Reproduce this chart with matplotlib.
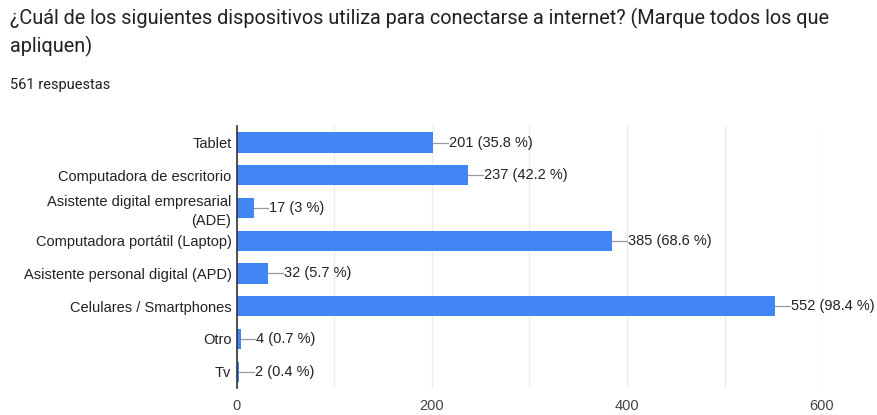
import matplotlib.pyplot as plt

# Survey answers (multiple choice, 561 responses)
CATEGORIES = [
    "Tablet",
    "Computadora de escritorio",
    "Asistente digital empresarial\n(ADE)",
    "Computadora portátil (Laptop)",
    "Asistente personal digital (APD)",
    "Celulares / Smartphones",
    "Otro",
    "Tv",
]
COUNTS = [201, 237, 17, 385, 32, 552, 4, 2]
PERCENTS = ["35.8", "42.2", "3", "68.6", "5.7", "98.4", "0.7", "0.4"]
X_TICKS = [0, 200, 400, 600]

BAR_COLOR = "#4285f4"
TEXT_COLOR = "#222222"


def main():
    fig = plt.figure(figsize=(8.77, 4.15), dpi=100)
    ax = fig.add_axes([0.2702, 0.065, 0.9373 - 0.2702, 0.631])

    y = list(range(len(CATEGORIES)))
    ax.barh(y, COUNTS, height=0.62, color=BAR_COLOR, zorder=2)

    ax.set_xlim(0, 600)
    ax.set_ylim(len(CATEGORIES) - 0.5, -0.5)
    ax.set_xticks(range(0, 601, 100))
    ax.set_xticklabels([str(v) if v in X_TICKS else "" for v in range(0, 601, 100)])
    ax.grid(axis="x", color="#ebebeb", linewidth=1, zorder=0)
    ax.tick_params(axis="both", length=0, labelsize=10.5, colors=TEXT_COLOR, pad=4)
    ax.tick_params(axis="x", pad=8)
    ax.set_yticks(y)
    ax.set_yticklabels(CATEGORIES, fontfamily="Liberation Sans", linespacing=1.4)
    for lab in ax.get_xticklabels():
        lab.set_fontfamily("Liberation Sans")
        lab.set_color("#444444")

    for side in ["top", "right", "bottom"]:
        ax.spines[side].set_visible(False)
    ax.spines["left"].set_color("#333333")
    ax.spines["left"].set_linewidth(1.2)
    ax.spines["left"].set_zorder(3)

    # value labels with a short leader line from the bar end
    lead = 15  # data units
    for yi, c, p in zip(y, COUNTS, PERCENTS):
        ax.plot([c, c + lead], [yi, yi], color="#999999", linewidth=0.9,
                zorder=2, clip_on=False)
        ax.text(c + lead + 1, yi, f"{c} ({p} %)", va="center", ha="left",
                fontsize=10.5, fontfamily="Liberation Sans", color=TEXT_COLOR,
                clip_on=False)

    fig.text(10 / 877, 1 - 18 / 415,
             "¿Cuál de los siguientes dispositivos utiliza para conectarse a internet? (Marque todos los que",
             fontsize=14.3, fontfamily="Roboto", color="#202124", va="center", ha="left")
    fig.text(10 / 877, 1 - 46 / 415, "apliquen)",
             fontsize=14.3, fontfamily="Roboto", color="#202124", va="center", ha="left")
    fig.text(10 / 877, 1 - 85 / 415, "561 respuestas",
             fontsize=10.5, fontfamily="Roboto", color="#202124", va="center", ha="left")

    fig.savefig("out.png", dpi=100)


if __name__ == "__main__":
    main()
